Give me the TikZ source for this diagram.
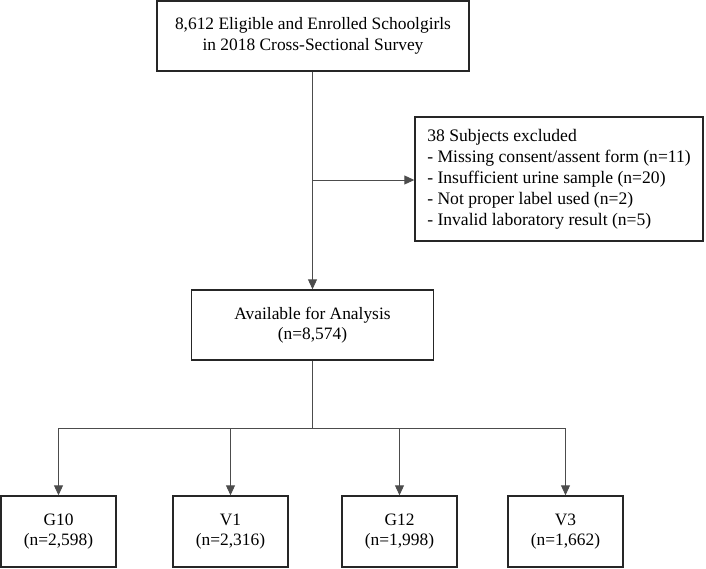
\documentclass[tikz,border=0pt]{standalone}
\usepackage{fontspec}
\setmainfont{Liberation Serif}
\usetikzlibrary{arrows.meta}
\begin{document}
\begin{tikzpicture}[x=1pt,y=-1pt,
  box/.style={draw=black!85,line width=1.4pt,fill=white,inner sep=0pt,align=center,
    font=\fontsize{17.4}{20.5}\selectfont},
  conn/.style={draw=black!70,line width=0.9pt},
  arr/.style={conn,-{Triangle[length=10pt,width=9pt]}}]
\useasboundingbox (0,0) rectangle (706,568);
\node[box,minimum width=312pt,minimum height=70pt] (top) at (313,36)
  {8,612 Eligible and Enrolled Schoolgirls\\in 2018 Cross-Sectional Survey};
\node[box,minimum width=288pt,minimum height=124pt,align=left,
  font=\fontsize{17.6}{20.9}\selectfont] (excl) at (559,179)
  {38 Subjects excluded\\- Missing consent/assent form (n=11)\\- Insufficient urine sample (n=20)\\- Not proper label used (n=2)\\- Invalid laboratory result (n=5)};
\node[box,minimum width=242pt,minimum height=70pt] (avail) at (312.5,325)
  {Available for Analysis\\(n=8,574)};
\node[box,minimum width=115pt,minimum height=71pt] (g10) at (58.5,531.5) {G10\\(n=2,598)};
\node[box,minimum width=115pt,minimum height=71pt] (v1) at (230.5,531.5) {V1\\(n=2,316)};
\node[box,minimum width=115pt,minimum height=71pt] (g12) at (399.5,531.5) {G12\\(n=1,998)};
\node[box,minimum width=115pt,minimum height=71pt] (v3) at (565.5,531.5) {V3\\(n=1,662)};
\coordinate (br) at (312.5,180);
\coordinate (bus) at (312.5,428);
\draw[arr] (top.south -| br) -- (avail.north -| br);
\draw[arr] (br) -- (excl.west |- br);
\draw[conn] (avail.south -| bus) -- (bus);
\draw[conn] (bus -| g10) -- (bus -| v3);
\foreach \n in {g10,v1,g12,v3} \draw[arr] (bus -| \n) -- (\n.north);
\end{tikzpicture}
\end{document}
